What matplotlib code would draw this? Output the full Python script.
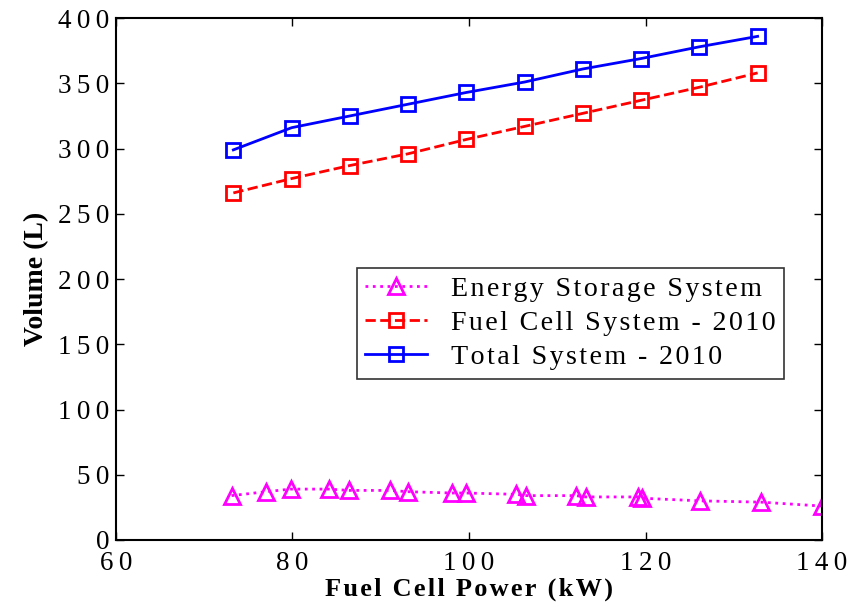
import matplotlib
matplotlib.use("Agg")
import matplotlib.pyplot as plt
from matplotlib.ticker import FuncFormatter

# fuel cell power (kW)
power_fc = [73.3, 79.9, 86.5, 93.1, 99.7, 106.3, 112.9, 119.5, 126.1, 132.7]
vol_total = [299, 316, 325, 334, 343, 351, 361, 369, 378, 386]
vol_fc = [266, 277, 287, 296, 307, 317, 327, 337, 347, 358]

power_ess = [73.1, 77.0, 79.8, 84.1, 86.4, 91.1, 93.1, 98.1, 99.7, 105.3,
             106.5, 112.1, 113.2, 119.2, 119.6, 126.2, 133.1, 140.0]
vol_ess = [34, 37, 39, 39, 38, 38, 37, 36, 36, 35,
           34, 34, 33, 33, 32, 30, 29, 26]

labels = ["Energy Storage System", "Fuel Cell System - 2010", "Total System - 2010"]

THIN = "\u2009"
HAIR = "\u200a"


def spaced(s, sep=THIN):
    # the original has very wide letter spacing
    return sep.join(list(s))


plt.rcParams['font.family'] = ['Liberation Serif', 'DejaVu Serif']

fig = plt.figure(figsize=(8.59, 6.03), dpi=100)
ax = fig.add_axes([0.135, 0.1045, 0.822, 0.8655])

ax.plot(power_ess, vol_ess, ':', color='#FF00FF', lw=2, marker='^', ms=12,
        mfc='none', mew=2, label=spaced(labels[0], HAIR))
ax.plot(power_fc, vol_fc, '--', color='#FF0000', lw=2, marker='s', ms=10,
        mfc='none', mew=2, label=spaced(labels[1], HAIR))
ax.plot(power_fc, vol_total, '-', color='#0000FF', lw=2, marker='s', ms=10,
        mfc='none', mew=2, label=spaced(labels[2], HAIR))

ax.set_xlim(60, 140)
ax.set_ylim(0, 400)
ax.set_xticks([60, 80, 100, 120, 140])
ax.set_yticks(range(0, 401, 50))
fmt = FuncFormatter(lambda v, p: spaced(str(int(v))))
ax.xaxis.set_major_formatter(fmt)
ax.yaxis.set_major_formatter(fmt)
ax.tick_params(direction='in', top=True, right=True, length=6, width=1,
               labelsize=19.5)
ax.tick_params(axis='x', pad=8)
ax.tick_params(axis='y', pad=5)
for sp in ax.spines.values():
    sp.set_linewidth(1.5)

ax.set_xlabel(spaced("Fuel Cell Power (kW)", HAIR), fontsize=19,
              fontweight='bold', labelpad=1)
ax.set_ylabel("Volume (L)", fontsize=20, fontweight='bold', labelpad=6)

leg = ax.legend(loc='upper left', bbox_to_anchor=(0.341, 0.521), fontsize=20.2,
                frameon=True, fancybox=False, edgecolor='black',
                handlelength=2.2, borderpad=0.3, labelspacing=0.3,
                handletextpad=0.85, borderaxespad=0)
leg.get_frame().set_linewidth(1.2)

fig.savefig("out.png", dpi=100)
